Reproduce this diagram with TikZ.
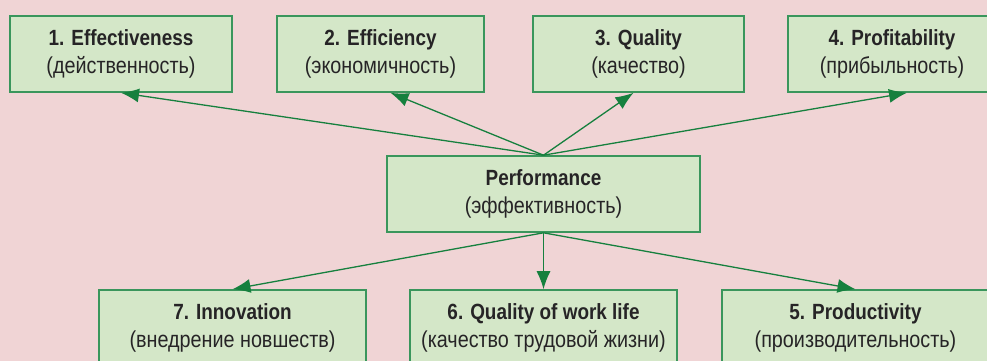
\documentclass[tikz,border=0pt]{standalone}
\usepackage{fontspec}
\setmainfont[FakeStretch=0.86]{Liberation Sans}
\usepackage{tikz}
\usetikzlibrary{arrows.meta}

\definecolor{bgpink}{RGB}{240,212,213}
\definecolor{boxfill}{RGB}{212,231,200}
\definecolor{boxline}{RGB}{58,150,92}
\definecolor{arrowgreen}{RGB}{22,128,62}
\definecolor{textdark}{RGB}{38,36,38}

\newcommand{\rustext}[1]{{\fontsize{23}{28}\selectfont #1}}

\tikzset{
  box/.style={draw=boxline, fill=boxfill, line width=1.6pt, rectangle,
    minimum height=76pt, inner sep=0pt, align=center, text=textdark,
    font=\fontsize{22}{28}\selectfont},
  link/.style={draw=arrowgreen, line width=1.3pt, -{Latex[length=18pt,width=14pt]}}
}

\begin{document}
\begin{tikzpicture}[x=1pt, y=-1pt]
				\clip (0,0) rectangle (987,361);
				\fill[bgpink] (0,0) rectangle (987,361);
				
				\node (box1) [box, minimum width=222pt] at (121,54) {\textbf{1. Effectiveness}\\\rustext{(действенность)}};
				\node (box2) [box, minimum width=207pt] at (380.5,54) {\textbf{2. Efficiency}\\\rustext{(экономичность)}};
				\node (box3) [box, minimum width=211pt] at (638.5,54) {\textbf{3. Quality}\\\rustext{(качество)}};
				\node (box4) [box, minimum width=208pt] at (892,54) {\textbf{4. Profitability}\\\rustext{(прибыльность)}};
				
				\node (perf) [box, minimum width=313pt] at (543.5,194) {\textbf{Performance}\\\rustext{(эффективность)}};
				
				\node (box7) [box, minimum width=267pt] at (232.5,328) {\textbf{7. Innovation}\\\rustext{(внедрение новшеств)}};
				\node (box6) [box, minimum width=267pt] at (543.5,328) {\textbf{6. Quality of work life}\\\rustext{(качество трудовой жизни)}};
				\node (box5) [box, minimum width=267pt] at (855.5,328) {\textbf{5. Productivity}\\\rustext{(производительность)}};
				
				% Arrows
				\draw[link] (perf.north) -- (box1.south);
				\draw[link] (perf.north) -- ([xshift=10pt]box2.south);
				\draw[link] (perf.north) -- ([xshift=-5pt]box3.south);
				\draw[link] (perf.north) -- ([xshift=15pt]box4.south);
				\draw[link] (perf.south) -- (box7.north);
				\draw[link] (perf.south) -- (box6.north);
				\draw[link] (perf.south) -- (box5.north);
				
			\end{tikzpicture}
\end{document}
